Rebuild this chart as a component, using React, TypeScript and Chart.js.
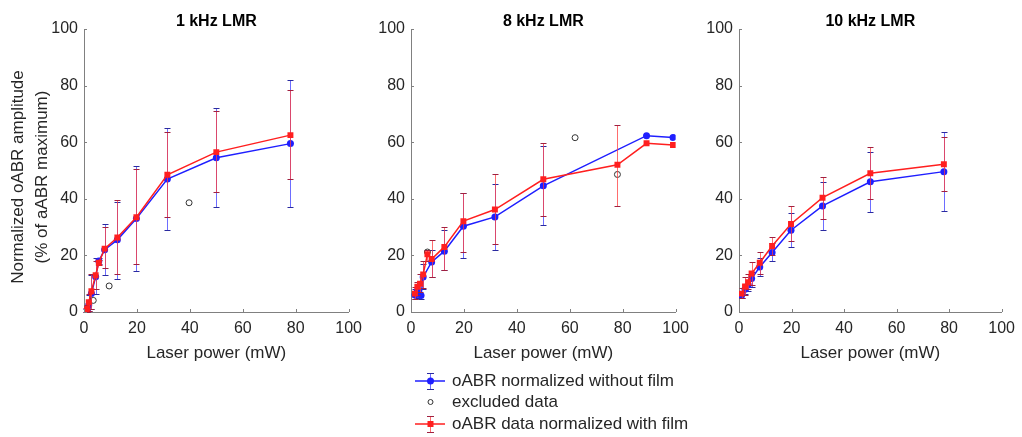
import React, { useEffect, useRef } from 'react';
import { Chart, registerables } from 'chart.js';
Chart.register(...registerables);

// ---------- data ----------
const xTicks = [0, 20, 40, 60, 80, 100];
const yTicks = [0, 20, 40, 60, 80, 100];
const panelTitles = ['1 kHz LMR', '8 kHz LMR', '10 kHz LMR'];

// 1 kHz
const p1Power = [0.8, 1.3, 1.8, 2.8, 4.4, 5.6, 7.8, 12.6, 19.8, 31.5, 50, 78];
const p1BlueMean = [0.2, 0.8, 2.5, 6.5, 12.5, 18, 22, 25.5, 33, 47, 54.5, 59.5];
const p1BlueUpper = [1, 2, 6, 13, 19, 19, 31, 39, 51.5, 65, 72, 82];
const p1BlueLower = [0, 0, 0.5, 1, 6.5, 17, 13, 11.5, 14.5, 29, 37, 37];
const p1RedMean = [0.5, 1.2, 3.5, 7.3, 13, 17.4, 22.4, 26.3, 33.5, 48.5, 56.5, 62.5];
const p1RedUpper = [1.5, 2.5, 6.5, 13.5, 18, 18.5, 30, 39.5, 50.5, 63.5, 71, 78.5];
const p1RedLower = [0, 0, 0.5, 1, 8, 16.5, 15.5, 13.5, 17, 33.5, 42.5, 47];
const p1ExclPower = [3.5, 9.5, 39.7];
const p1ExclValue = [4.1, 9.2, 38.6];

// 8 kHz
const p2BluePower = [1.5, 2.4, 3.8, 4.6, 7.8, 12.6, 19.8, 31.7, 50, 89, 99];
const p2BlueMean = [6, 7.5, 5.8, 12.4, 17.7, 21.5, 30.3, 33.6, 44.6, 62.3, 61.7];
const p2BlueUpper = [8, 9, 8, 17, 22, 29, 42, 45.2, 58.8, null, null];
const p2BlueLower = [4.5, 5, 4.5, 8, 12.4, 14.8, 19.1, 21.8, 30.9, null, null];
const p2RedPower = [1.5, 2.4, 3.4, 4.6, 6.2, 7.8, 12.6, 19.8, 31.7, 50, 78, 89, 99];
const p2RedMean = [6.5, 8.9, 10, 13.3, 20.4, 18.7, 23, 32.1, 36.2, 46.9, 52, 59.6, 59];
const p2RedUpper = [9, 10.5, 13.5, 18, 22, 25.4, 30.1, 42, 48.6, 59.6, 66, null, null];
const p2RedLower = [4.5, 6, 7, 8.5, 18, 12.5, 15, 21.2, 24.2, 34, 37.4, null, null];
const p2ExclPower = [6.2, 62, 78];
const p2ExclValue = [21.2, 61.6, 48.6];

// 10 kHz
const p3Power = [1, 2.3, 3.5, 4.8, 7.9, 12.6, 19.8, 31.8, 50, 78];
const p3BlueMean = [5.9, 8, 9.5, 11.8, 15.9, 21, 28.9, 37.5, 46, 49.6];
const p3BlueUpper = [7, 9.5, 11, 14, 19, 24.5, 34.9, 46.1, 56.7, 63.5];
const p3BlueLower = [4.8, 6.5, 7.5, 9, 12.6, 18, 22.9, 28.9, 35.4, 35.7];
const p3RedMean = [6.5, 9, 10.5, 13.6, 17.4, 23.3, 31.1, 40.4, 49, 52.2];
const p3RedUpper = [8.5, 12.5, 13.5, 17.7, 21.3, 26.6, 37.4, 47.8, 58.4, 62];
const p3RedLower = [5, 6, 8, 9.5, 13.5, 20, 25, 33, 39.8, 42.7];
const p3ExclPower: number[] = [];
const p3ExclValue: number[] = [];

const legendLabels = ['oABR normalized without film', 'excluded data', 'oABR data normalized with film'];
const xLabel = 'Laser power (mW)';
const yLabelLines = ['Normalized oABR amplitude', '(% of aABR maximum)'];

// ---------- styles ----------
const FONT = '"Liberation Sans", Arial, Helvetica, sans-serif';
const AXIS = '#808080';
const TXT = '#262626';
const BLUE = '#1f1fff';
const RED = '#ff1f1f';
const BLUE_ERR = 'rgba(60,60,255,0.75)';
const RED_ERR = 'rgba(255,60,60,0.75)';
const BLUE_CAP = '#2a2aa0';
const RED_CAP = '#a02040';

const pts = (xs: number[], ys: number[]) => xs.map((x, i) => ({ x, y: ys[i] }));

const errorBarPlugin = {
  id: 'errorBars',
  beforeDatasetDraw(chart: any, args: any) {
    const ds = chart.data.datasets[args.index];
    if (!ds.errUpper) return;
    const { ctx } = chart;
    const xs = chart.scales.x;
    const ys = chart.scales.y;
    ctx.save();
    ctx.lineWidth = 1;
    ds.data.forEach((p: any, i: number) => {
      const up = ds.errUpper[i];
      const lo = ds.errLower[i];
      if (up == null || lo == null) return;
      const px = Math.round(xs.getPixelForValue(p.x)) + 0.5;
      const pu = Math.round(ys.getPixelForValue(up)) + 0.5;
      const pl = Math.round(ys.getPixelForValue(lo)) + 0.5;
      ctx.strokeStyle = ds.errColor;
      ctx.beginPath();
      ctx.moveTo(px, pu);
      ctx.lineTo(px, pl);
      ctx.stroke();
      ctx.strokeStyle = ds.capColor;
      ctx.beginPath();
      ctx.moveTo(px - 3, pu);
      ctx.lineTo(px + 3, pu);
      ctx.moveTo(px - 3, pl);
      ctx.lineTo(px + 3, pl);
      ctx.stroke();
    });
    ctx.restore();
  },
};

const innerTickPlugin = {
  id: 'innerTicks',
  afterDraw(chart: any) {
    const { ctx, chartArea } = chart;
    const xs = chart.scales.x;
    const ys = chart.scales.y;
    ctx.save();
    ctx.strokeStyle = AXIS;
    ctx.lineWidth = 1;
    ctx.beginPath();
    xs.ticks.forEach((t: any) => {
      const px = Math.round(xs.getPixelForValue(t.value)) + 0.5;
      ctx.moveTo(px, chartArea.bottom);
      ctx.lineTo(px, chartArea.bottom - 3);
    });
    ys.ticks.forEach((t: any) => {
      const py = Math.round(ys.getPixelForValue(t.value)) + 0.5;
      ctx.moveTo(chartArea.left, py);
      ctx.lineTo(chartArea.left + 3, py);
    });
    ctx.stroke();
    ctx.restore();
  },
};

function makeTextPlugin(title: string, withYLabel: boolean) {
  return {
    id: 'panelText',
    afterDraw(chart: any) {
      const { ctx, chartArea } = chart;
      ctx.save();
      ctx.fillStyle = '#000';
      ctx.font = `bold 16px ${FONT}`;
      ctx.textAlign = 'center';
      ctx.textBaseline = 'alphabetic';
      ctx.fillText(title, (chartArea.left + chartArea.right) / 2, 26);
      if (withYLabel) {
        ctx.fillStyle = TXT;
        ctx.font = `17px ${FONT}`;
        ctx.textBaseline = 'middle';
        const xs = [18, 42];
        yLabelLines.forEach((line, i) => {
          ctx.save();
          ctx.translate(xs[i], 177);
          ctx.rotate(-Math.PI / 2);
          ctx.fillText(line, 0, 0);
          ctx.restore();
        });
      }
      ctx.restore();
    },
  };
}

function makeLegendPlugin(offsetX: number) {
  return {
    id: 'customLegend',
    afterDraw(chart: any) {
      const { ctx } = chart;
      const cx = 430 - offsetX;
      const rows = [381, 402, 424];
      ctx.save();
      // row 1: blue
      ctx.lineWidth = 1.5;
      ctx.strokeStyle = BLUE;
      ctx.beginPath();
      ctx.moveTo(cx - 15, rows[0]);
      ctx.lineTo(cx + 15, rows[0]);
      ctx.stroke();
      ctx.lineWidth = 1;
      ctx.strokeStyle = BLUE_ERR;
      ctx.beginPath();
      ctx.moveTo(cx + 0.5, rows[0] - 8);
      ctx.lineTo(cx + 0.5, rows[0] + 8);
      ctx.stroke();
      ctx.strokeStyle = BLUE_CAP;
      ctx.beginPath();
      ctx.moveTo(cx - 3, rows[0] - 7.5);
      ctx.lineTo(cx + 4, rows[0] - 7.5);
      ctx.moveTo(cx - 3, rows[0] + 8.5);
      ctx.lineTo(cx + 4, rows[0] + 8.5);
      ctx.stroke();
      ctx.fillStyle = BLUE;
      ctx.beginPath();
      ctx.arc(cx + 0.5, rows[0], 3.5, 0, Math.PI * 2);
      ctx.fill();
      // row 2: excluded
      ctx.strokeStyle = '#333';
      ctx.lineWidth = 1;
      ctx.beginPath();
      ctx.arc(cx + 0.5, rows[1], 2.5, 0, Math.PI * 2);
      ctx.stroke();
      // row 3: red
      ctx.lineWidth = 1.5;
      ctx.strokeStyle = RED;
      ctx.beginPath();
      ctx.moveTo(cx - 15, rows[2]);
      ctx.lineTo(cx + 15, rows[2]);
      ctx.stroke();
      ctx.lineWidth = 1;
      ctx.strokeStyle = RED_ERR;
      ctx.beginPath();
      ctx.moveTo(cx + 0.5, rows[2] - 8);
      ctx.lineTo(cx + 0.5, rows[2] + 8);
      ctx.stroke();
      ctx.strokeStyle = RED_CAP;
      ctx.beginPath();
      ctx.moveTo(cx - 3, rows[2] - 7.5);
      ctx.lineTo(cx + 4, rows[2] - 7.5);
      ctx.moveTo(cx - 3, rows[2] + 8.5);
      ctx.lineTo(cx + 4, rows[2] + 8.5);
      ctx.stroke();
      ctx.fillStyle = RED;
      ctx.fillRect(cx - 2.5, rows[2] - 3, 6, 6);
      // texts
      ctx.fillStyle = TXT;
      ctx.font = `17px ${FONT}`;
      ctx.textAlign = 'left';
      ctx.textBaseline = 'middle';
      legendLabels.forEach((l, i) => ctx.fillText(l, 452 - offsetX, rows[i]));
      ctx.restore();
    },
  };
}

type PanelDef = {
  left: number;
  width: number;
  yw: number;
  pr: number;
  title: string;
  yLabel: boolean;
  legend: boolean;
  blueX: number[];
  blueY: number[];
  blueU: (number | null)[];
  blueL: (number | null)[];
  redX: number[];
  redY: number[];
  redU: (number | null)[];
  redL: (number | null)[];
  exX: number[];
  exY: number[];
};

const panels: PanelDef[] = [
  { left: 0, width: 369, yw: 84, pr: 20, title: panelTitles[0], yLabel: true, legend: false,
    blueX: p1Power, blueY: p1BlueMean, blueU: p1BlueUpper, blueL: p1BlueLower,
    redX: p1Power, redY: p1RedMean, redU: p1RedUpper, redL: p1RedLower,
    exX: p1ExclPower, exY: p1ExclValue },
  { left: 370, width: 326, yw: 41, pr: 20, title: panelTitles[1], yLabel: false, legend: true,
    blueX: p2BluePower, blueY: p2BlueMean, blueU: p2BlueUpper, blueL: p2BlueLower,
    redX: p2RedPower, redY: p2RedMean, redU: p2RedUpper, redL: p2RedLower,
    exX: p2ExclPower, exY: p2ExclValue },
  { left: 700, width: 322, yw: 39, pr: 18, title: panelTitles[2], yLabel: false, legend: false,
    blueX: p3Power, blueY: p3BlueMean, blueU: p3BlueUpper, blueL: p3BlueLower,
    redX: p3Power, redY: p3RedMean, redU: p3RedUpper, redL: p3RedLower,
    exX: p3ExclPower, exY: p3ExclValue },
];

function Panel({ def }: { def: PanelDef }) {
  const ref = useRef<HTMLCanvasElement | null>(null);
  useEffect(() => {
    if (!ref.current) return;
    const plugins: any[] = [errorBarPlugin, innerTickPlugin, makeTextPlugin(def.title, def.yLabel)];
    if (def.legend) plugins.push(makeLegendPlugin(def.left));
    const chart = new Chart(ref.current, {
      type: 'line',
      data: {
        datasets: [
          {
            label: legendLabels[2],
            data: pts(def.redX, def.redY),
            borderColor: RED,
            backgroundColor: RED,
            borderWidth: 1.5,
            pointStyle: 'rect',
            pointRadius: 4.2,
            pointBorderWidth: 0,
            pointBackgroundColor: RED,
            tension: 0,
            order: 0,
            errUpper: def.redU,
            errLower: def.redL,
            errColor: RED_ERR,
            capColor: RED_CAP,
          } as any,
          {
            label: legendLabels[1],
            data: pts(def.exX, def.exY),
            showLine: false,
            pointStyle: 'circle',
            pointRadius: 3,
            pointBorderWidth: 1,
            pointBorderColor: '#333333',
            pointBackgroundColor: 'rgba(0,0,0,0)',
            order: 1,
          } as any,
          {
            label: legendLabels[0],
            data: pts(def.blueX, def.blueY),
            borderColor: BLUE,
            backgroundColor: BLUE,
            borderWidth: 1.5,
            pointStyle: 'circle',
            pointRadius: 3.5,
            pointBorderWidth: 0,
            pointBackgroundColor: BLUE,
            tension: 0,
            order: 2,
            errUpper: def.blueU,
            errLower: def.blueL,
            errColor: BLUE_ERR,
            capColor: BLUE_CAP,
          } as any,
        ],
      },
      options: {
        animation: false,
        responsive: false,
        maintainAspectRatio: false,
        devicePixelRatio: 1,
        layout: { padding: { top: 29, right: def.pr, bottom: 67, left: 0 } },
        plugins: { legend: { display: false }, tooltip: { enabled: false }, title: { display: false } },
        scales: {
          x: {
            type: 'linear',
            min: 0,
            max: 100,
            afterBuildTicks: (s: any) => { s.ticks = xTicks.map((v) => ({ value: v })); },
            ticks: { font: { family: FONT, size: 16 }, color: TXT, padding: 7, maxRotation: 0, autoSkip: false },
            grid: { display: false, drawTicks: false },
            border: { display: true, color: AXIS, width: 1 },
            title: { display: true, text: xLabel, font: { family: FONT, size: 17 }, color: TXT, padding: { top: 0, bottom: 6 } },
            afterFit: (s: any) => { s.height = 58; },
          },
          y: {
            type: 'linear',
            min: 0,
            max: 100,
            afterBuildTicks: (s: any) => { s.ticks = yTicks.map((v) => ({ value: v })); },
            ticks: { font: { family: FONT, size: 16 }, color: TXT, padding: 6, autoSkip: false },
            grid: { display: false, drawTicks: false },
            border: { display: true, color: AXIS, width: 1 },
            afterFit: (s: any) => { s.width = def.yw; },
          },
        },
      } as any,
      plugins,
    });
    return () => chart.destroy();
  }, [def]);
  return (
    <canvas
      ref={ref}
      width={def.width}
      height={437}
      style={{ position: 'absolute', left: def.left, top: 0, width: def.width, height: 437 }}
    />
  );
}

export default function App() {
  return (
    <div style={{ position: 'fixed', left: 0, top: 0, width: 1022, height: 437, background: '#fff', overflow: 'hidden' }}>
      {panels.map((p, i) => (
        <Panel key={i} def={p} />
      ))}
    </div>
  );
}
